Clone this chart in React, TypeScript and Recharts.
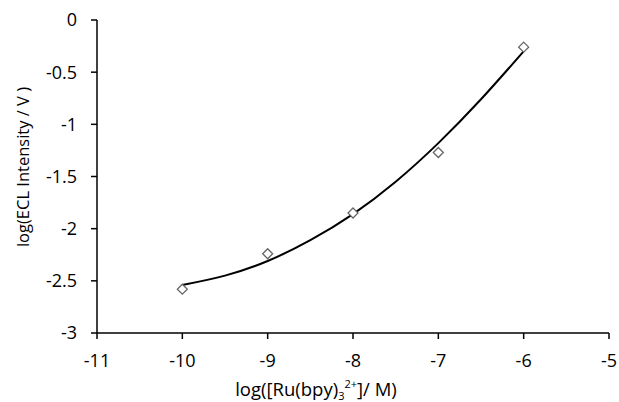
import { ComposedChart, Line, Scatter, XAxis, YAxis } from 'recharts';

// measured points
const concLog = [-10, -9, -8, -7, -6];
const intensityLog = [-2.58, -2.24, -1.85, -1.27, -0.26];

// trend curve
const fitX = [-10, -9.5, -9, -8.5, -8, -7.5, -7, -6.5, -6];
const fitY = [-2.54, -2.45, -2.31, -2.11, -1.86, -1.55, -1.18, -0.76, -0.3];

const xTicks = [-11, -10, -9, -8, -7, -6, -5];
const yTicks = [0, -0.5, -1, -1.5, -2, -2.5, -3];

const points = concLog.map((x, i) => ({ x, y: intensityLog[i] }));
const curve = fitX.map((x, i) => ({ x, y: fitY[i] }));

const FONT = '"Open Sans", sans-serif';

const Diamond = (props: any) => {
  const { cx, cy } = props;
  const r = 5;
  return (
    <polygon
      points={`${cx},${cy - r} ${cx + r},${cy} ${cx},${cy + r} ${cx - r},${cy}`}
      fill="#fff"
      stroke="#666"
      strokeWidth={1.3}
    />
  );
};

export default function App() {
  const tick = { fill: '#000', fontSize: 18, fontFamily: FONT };
  return (
    <div style={{ position: 'absolute', left: 0, top: 0, background: '#fff' }}>
      <ComposedChart width={619} height={402} margin={{ top: 20, right: 10, bottom: 0, left: 0 }}>
        <XAxis
          type="number"
          dataKey="x"
          domain={[-11, -5]}
          ticks={xTicks}
          allowDataOverflow
          height={69}
          tick={tick}
          tickSize={6}
          tickMargin={15}
          stroke="#000"
          strokeWidth={1.5}
        />
        <YAxis
          type="number"
          dataKey="y"
          domain={[-3, 0]}
          ticks={yTicks}
          width={97}
          tick={tick}
          tickSize={6}
          tickMargin={14}
          stroke="#000"
          strokeWidth={1.5}
        />
        <Line
          data={curve}
          dataKey="y"
          type="natural"
          stroke="#000"
          strokeWidth={2}
          dot={false}
          activeDot={false}
          isAnimationActive={false}
        />
        <Scatter data={points} dataKey="y" shape={<Diamond />} isAnimationActive={false} />
        <text
          x={22}
          y={167}
          transform="rotate(-90, 22, 167)"
          textAnchor="middle"
          dominantBaseline="central"
          fontSize={16.5}
          fontFamily={FONT}
          fill="#000"
        >
          log(ECL Intensity / V )
        </text>
        <text x={316} y={396} textAnchor="middle" fontSize={18.5} fontFamily={FONT} fill="#000">
          log([Ru(bpy)
          <tspan fontSize={11} dy={4}>3</tspan>
          <tspan fontSize={11} dy={-12}>2+</tspan>
          <tspan dy={8}>]/ M)</tspan>
        </text>
      </ComposedChart>
    </div>
  );
}
